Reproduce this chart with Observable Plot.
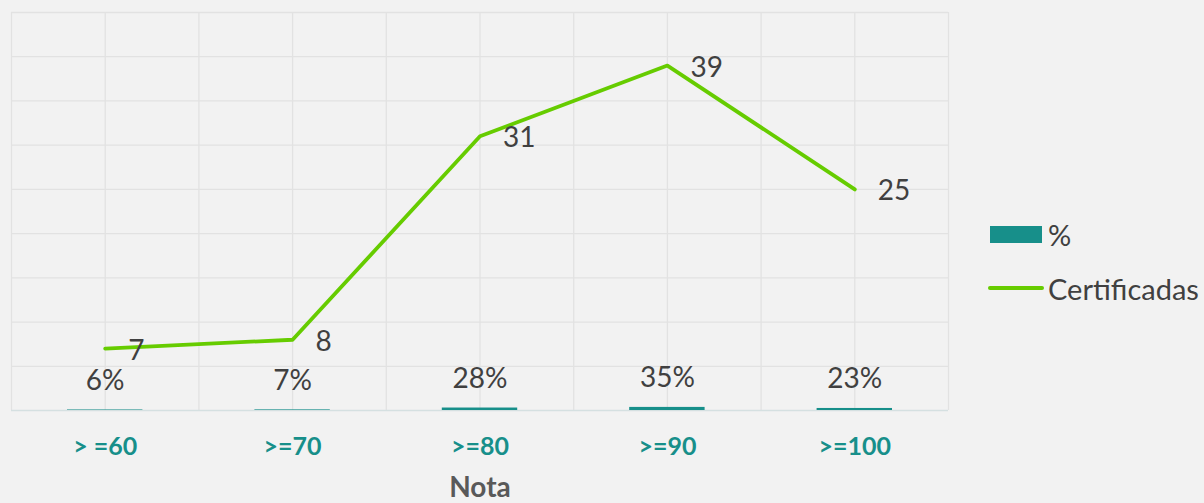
<!DOCTYPE html>
<html>
<head>
<meta charset="utf-8">
<script src="https://cdn.jsdelivr.net/npm/d3@7"></script>
<script src="https://cdn.jsdelivr.net/npm/@observablehq/plot@0.6"></script>
<style>
  html, body { margin: 0; padding: 0; background: #f2f2f2; }
  #wrap { position: relative; width: 1204px; height: 503px; font-family: Lato, "Open Sans", sans-serif; }
  #chart { position: absolute; left: 0; top: 0; }
  .leg { position: absolute; left: 988px; display: flex; align-items: center; color: #404040; font-size: 29px; }
  .sw-bar { width: 52px; height: 17px; background: #178f8a; margin-left: 2px; margin-right: 6px; }
  .sw-line { width: 56px; height: 4px; background: #66cc00; border-radius: 2px; margin-right: 4px; }
</style>
</head>
<body>
<div id="wrap">
  <div id="chart"></div>
  <div class="leg" style="top:217px;height:34px"><div class="sw-bar"></div><span>%</span></div>
  <div class="leg" style="top:271px;height:34px"><div class="sw-line"></div><span>Certificadas</span></div>
</div>
<script>
const categories = ["> =60", ">=70", ">=80", ">=90", ">=100"];
const pctValues = [0.06, 0.07, 0.28, 0.35, 0.23];
const pctLabels = ["6%", "7%", "28%", "35%", "23%"];
const certificadas = [7, 8, 31, 39, 25];

const teal = "#178f8a";
const green = "#66cc00";
const textColor = "#404040";
const gridColor = "#e2e2e2";

const data = categories.map((c, i) => ({
  cat: c, lo: i, hi: i + 1, pos: i + 0.5,
  pct: pctValues[i], pctLabel: pctLabels[i], cert: certificadas[i]
}));

const chart = Plot.plot({
  width: 960,
  height: 503,
  marginLeft: 11,
  marginRight: 12,
  marginTop: 12,
  marginBottom: 93,
  style: { background: "transparent", fontFamily: "Lato, 'Open Sans', sans-serif" },
  x: { domain: [0, categories.length], axis: null },
  y: { domain: [0, 45], axis: null },
  marks: [
    Plot.gridX({ ticks: d3.range(0, categories.length + 0.01, 0.5), stroke: gridColor, strokeOpacity: 1, strokeWidth: 1.3 }),
    Plot.gridY({ ticks: d3.range(5, 46, 5), stroke: gridColor, strokeOpacity: 1, strokeWidth: 1.3 }),
    Plot.ruleY([0], { stroke: "#d5e0e1", strokeWidth: 1.5 }),
    Plot.rectY(data, { x1: "lo", x2: "hi", y1: 0, y2: "pct", fill: teal, insetLeft: 56, insetRight: 56 }),
    Plot.text(data, { x: "pos", y: "pct", text: "pctLabel", dy: -29, fontSize: 28, fill: textColor }),
    Plot.line(data, { x: "pos", y: "cert", stroke: green, strokeWidth: 3.8 }),
    Plot.text(data, { x: "pos", y: "cert", text: d => String(d.cert), textAnchor: "start", dx: 23, dy: 2, fontSize: 28, fill: textColor }),
    Plot.axisX({
      ticks: data.map(d => d.pos),
      tickFormat: (d) => categories[Math.floor(d)],
      tickSize: 0,
      tickPadding: 27,
      fontSize: 25,
      fontWeight: "bold",
      fill: teal,
      label: null
    }),
    Plot.text(["Nota"], { frameAnchor: "bottom", dy: 86, fontSize: 28, fontWeight: "bold", fill: "#595959" })
  ]
});
document.getElementById("chart").appendChild(chart);
</script>
</body>
</html>
